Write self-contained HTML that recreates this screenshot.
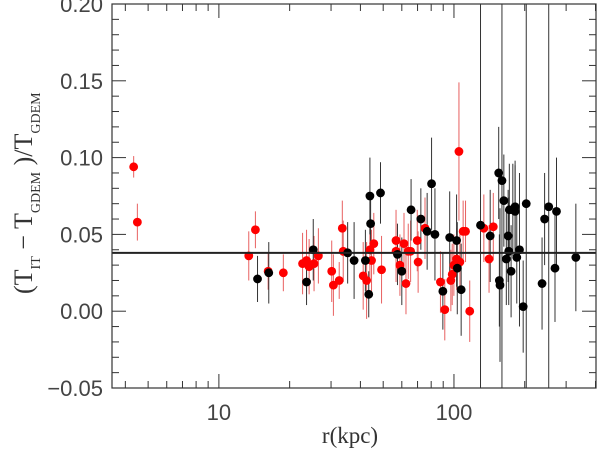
<!DOCTYPE html>
<html><head><meta charset="utf-8"><style>
html,body{margin:0;padding:0;background:#fff;width:600px;height:453px;overflow:hidden}
svg{display:block}
</style></head><body>
<svg id="chart" width="600" height="453" xmlns="http://www.w3.org/2000/svg">
<g id="errs"></g>
<g id="pts"></g>
<g id="axes"></g>
<text x="350" y="443" text-anchor="middle" font-family="Liberation Serif, serif" font-size="23" fill="#333">r(kpc)</text>
<text transform="translate(32,294) rotate(-90)" font-family="Liberation Serif, serif" font-size="26" fill="#333">(T<tspan font-size="14" dy="8">IT</tspan><tspan dy="-8"> − T</tspan><tspan font-size="14" dy="8">GDEM</tspan><tspan dy="-8"> )/T</tspan><tspan font-size="14" dy="8">GDEM</tspan></text>
</svg>
<script>
const redR=[4.34,4.5,13.4,14.3,16.2,18.8,22.7,23.6,24.2,25.4,26.5,30.2,30.7,32.5,33.5,33.8,41.1,42.5,43.9,44.6,45.6,49.2,56.7,56.7,58.9,61.3,62.5,63.9,65.4,69.8,70.4,75.3,87.6,91.4,97.0,98.3,99.9,102.6,105,106,109.4,112,116.7,134,141,147];
const redV=[0.094,0.058,0.036,0.053,0.026,0.025,0.031,0.033,0.029,0.031,0.036,0.026,0.017,0.020,0.054,0.039,0.023,0.020,0.040,0.033,0.044,0.027,0.046,0.039,0.030,0.044,0.018,0.039,0.039,0.046,0.032,0.054,0.019,0.001,0.020,0.024,0.030,0.034,0.104,0.032,0.052,0.052,0.000,0.054,0.034,0.055];
const redE=[0.007,0.012,0.016,0.012,0.012,0.012,0.02,0.02,0.018,0.018,0.018,0.02,0.02,0.012,0.018,0.02,0.022,0.025,0.02,0.02,0.02,0.022,0.02,0.02,0.02,0.02,0.02,0.018,0.02,0.02,0.02,0.02,0.02,0.02,0.02,0.02,0.02,0.02,0.045,0.02,0.02,0.02,0.02,0.022,0.022,0.022];
const blkR=[14.6,16.3,23.6,25.2,35.3,37.6,42.0,43.4,43.9,44.2,48.7,57.5,60.0,65.7,72.3,76.9,80.3,83.0,89.7,95.9,102.6,103.3,107.3,129.7,142.6,155,156,157,160,163,167,170,171,172,175,178,182,182,185,190,197,203,237,243,253,269,273,330];
const blkV=[0.021,0.025,0.019,0.040,0.038,0.033,0.033,0.011,0.075,0.057,0.077,0.037,0.026,0.066,0.060,0.052,0.083,0.050,0.013,0.048,0.046,0.028,0.014,0.056,0.049,0.090,0.020,0.017,0.085,0.072,0.034,0.049,0.039,0.066,0.026,0.066,0.068,0.065,0.035,0.040,0.003,0.070,0.018,0.060,0.068,0.028,0.065,0.035];
const blkE=[0.015,0.02,0.015,0.02,0.02,0.025,0.02,0.015,0.025,0.02,0.02,0.02,0.022,0.02,0.02,0.025,0.03,0.03,0.025,0.03,0.03,0.03,0.03,0.3,0.03,0.03,0.03,0.05,0.3,0.03,0.03,0.03,0.035,0.03,0.03,0.03,0.03,0.03,0.03,0.05,0.03,0.3,0.03,0.03,0.3,0.035,0.035,0.035];
const yTicks=[-0.05,0.00,0.05,0.10,0.15,0.20];
const yTickLabels=["\u22120.05","0.00","0.05","0.10","0.15","0.20"];
const xTicks=[10,100];
const xTickLabels=["10","100"];
const refLine=0.038;
const L=112,R=596,T=4,B=388,xMin=3.51,xMax=402,yMin=-0.05,yMax=0.20;
const NS="http://www.w3.org/2000/svg";
function xs(r){return L+(Math.log10(r)-Math.log10(xMin))/(Math.log10(xMax)-Math.log10(xMin))*(R-L);}
function ys(v){return B-(v-yMin)/(yMax-yMin)*(B-T);}
function mk(tag,attrs,parent){const e=document.createElementNS(NS,tag);for(const k in attrs)e.setAttribute(k,attrs[k]);parent.appendChild(e);return e;}
const errs=document.getElementById('errs'),pts=document.getElementById('pts'),axes=document.getElementById('axes');
function series(rs,vs,es,col,ecol,name){
 for(let i=0;i<rs.length;i++){
  const x=xs(rs[i]);
  const l=mk('line',{x1:x,x2:x,y1:Math.max(T,ys(vs[i]+es[i])),y2:Math.min(B,ys(vs[i]-es[i])),stroke:ecol,'stroke-width':1},errs);
  
  
  const c=mk('circle',{cx:x,cy:ys(vs[i]),r:4.4,fill:col},pts);
  
  
 }
}
series(redR,redV,redE,'#ff0000','#e86060','red-series');
series(blkR,blkV,blkE,'#000000','#333333','black-series');
const ref=mk('line',{x1:L,x2:R,y1:ys(refLine),y2:ys(refLine),stroke:'#222','stroke-width':2},axes);


const fr=mk('rect',{x:L,y:T,width:R-L,height:B-T,fill:'none',stroke:'#333','stroke-width':1.2},axes);


for(let v=-0.05;v<=0.2001;v+=0.01){
 const y=ys(v);const major=Math.abs(Math.round(v*100)%5)===0;const len=major?14:7;
 mk('line',{x1:L,x2:L+len,y1:y,y2:y,stroke:'#333'},axes);
 mk('line',{x1:R,x2:R-len,y1:y,y2:y,stroke:'#333'},axes);
}
yTicks.forEach((v,i)=>{const t=mk('text',{x:103,y:ys(v)+8,'text-anchor':'end','font-family':'Liberation Sans, sans-serif','font-size':'22',fill:'#444'},axes);t.textContent=yTickLabels[i];
 
 });
for(let d=0;d<=2;d++){for(let m=1;m<10;m++){const r=m*Math.pow(10,d);if(r<xMin||r>xMax)continue;const x=xs(r);const len=m===1?14:7;
 mk('line',{x1:x,x2:x,y1:B,y2:B-len,stroke:'#333'},axes);
 mk('line',{x1:x,x2:x,y1:T,y2:T+len,stroke:'#333'},axes);}}
xTicks.forEach((r,i)=>{const t=mk('text',{x:xs(r),y:420,'text-anchor':'middle','font-family':'Liberation Sans, sans-serif','font-size':'22',fill:'#444'},axes);t.textContent=xTickLabels[i];
 
 });
</script>
</body></html>
